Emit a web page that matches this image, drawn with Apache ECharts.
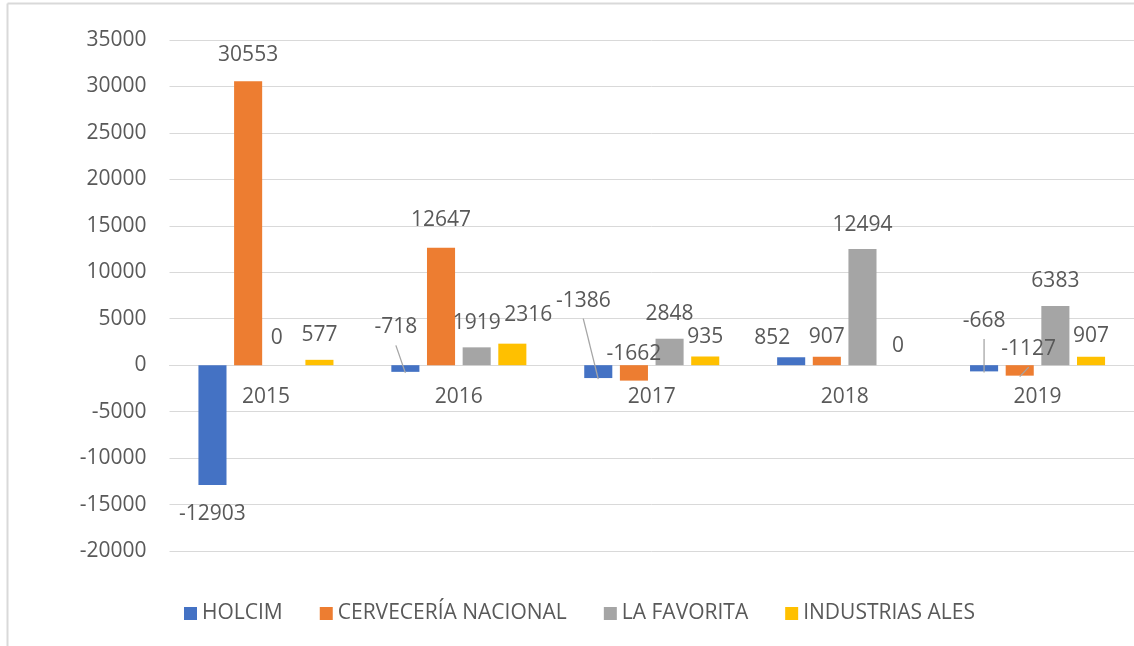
<!DOCTYPE html>
<html>
<head>
<meta charset="utf-8">
<script src="https://cdn.jsdelivr.net/npm/echarts@6/dist/echarts.min.js"></script>
<style>
html,body{margin:0;padding:0;background:#fff;}
#chart{width:1134px;height:646px;}
</style>
</head>
<body>
<div id="chart"></div>
<script>
const categories = ['2015', '2016', '2017', '2018', '2019'];
const holcim = [-12903, -718, -1386, 852, -668];
const cerveceria = [30553, 12647, -1662, 907, -1127];
const laFavorita = [0, 1919, 2848, 12494, 6383];
const industriasAles = [577, 2316, 935, 0, 907];
const seriesNames = ['HOLCIM', 'CERVECERÍA NACIONAL', 'LA FAVORITA', 'INDUSTRIAS ALES'];
const seriesValues = [holcim, cerveceria, laFavorita, industriasAles];
const colors = ['#4472C4', '#ED7D31', '#A5A5A5', '#FFC000'];

// label nudges (dx, dy) from default spot, keyed by series -> category index
const nudges = [
  {0: [0, 4], 1: [-9.5, -69], 2: [-15, -102], 3: [-19, 5], 4: [0, -75]},
  {0: [0, -2], 1: [0, -3], 2: [0, -51], 3: [0, 5], 4: [9, -51]},
  {0: [-7, -3]},
  {1: [16, -4], 2: [0, 5], 3: [0, 5], 4: [0, 4]}
];
// labels that show leader lines
const leaders = [[1, 2, 4], [4], [], []];
const leaderPts = {};

const textColor = '#595959';
const font = "'Open Sans', 'Noto Sans', sans-serif";

const chart = echarts.init(document.getElementById('chart'), null, {renderer: 'canvas'});

const series = seriesValues.map((vals, si) => ({
  name: seriesNames[si],
  type: 'bar',
  barGap: '27%',
  barCategoryGap: '30%',
  itemStyle: {color: colors[si]},
  label: {
    show: true,
    color: textColor,
    fontFamily: font,
    fontSize: 21,
    distance: 14
  },
  labelLayout: function (p) {
    const n = nudges[p.seriesIndex][p.dataIndex];
    if (!n) return {};
    const cx = p.labelRect.x + p.labelRect.width / 2 + n[0];
    const cy = p.labelRect.y + p.labelRect.height / 2 + n[1];
    if (leaders[p.seriesIndex].indexOf(p.dataIndex) >= 0) {
      const r = p.rect;
      const bx = r.x + r.width / 2;
      const by = Math.max(r.y, r.y + r.height) + 1;
      leaderPts[p.seriesIndex + '-' + p.dataIndex] = [cx, cy + 18, bx, by];
    }
    return {x: cx, y: cy, align: 'center', verticalAlign: 'middle'};
  },
  data: vals.map((v, i) => ({
    value: v,
    label: {position: v < 0 ? 'bottom' : 'top'}
  }))
}));

chart.setOption({
  animation: false,
  color: colors,
  textStyle: {fontFamily: font},
  grid: {left: 169.5, right: -8, top: 40, bottom: 95, containLabel: false},
  legend: {
    data: seriesNames,
    left: 179,
    top: 598,
    itemWidth: 13,
    itemHeight: 13,
    itemGap: 37,
    icon: 'rect',
    textStyle: {color: textColor, fontSize: 21, fontFamily: font}
  },
  xAxis: {
    type: 'category',
    data: categories,
    position: 'bottom',
    offset: -186,
    axisLine: {show: true, onZero: false, lineStyle: {color: '#d9d9d9', width: 1}},
    axisTick: {show: false},
    axisLabel: {color: textColor, fontSize: 21, fontFamily: font, margin: 22}
  },
  yAxis: {
    type: 'value',
    min: -20000,
    max: 35000,
    interval: 5000,
    axisLine: {show: false},
    axisTick: {show: false},
    splitLine: {show: true, lineStyle: {color: '#d9d9d9', width: 1}},
    axisLabel: {color: textColor, fontSize: 21, fontFamily: font, margin: 23, formatter: v => String(v)}
  },
  graphic: [
    {id: 'borderTop', type: 'line', shape: {x1: 7.5, y1: 3.5, x2: 1134, y2: 3.5}, style: {stroke: '#d9d9d9', lineWidth: 2}, silent: true},
    {id: 'borderLeft', type: 'line', shape: {x1: 7.5, y1: 3.5, x2: 7.5, y2: 646}, style: {stroke: '#d9d9d9', lineWidth: 2}, silent: true}
  ],
  series: series
});

// leader lines, from the positions the library computed for labels and bars
const leaderGraphics = Object.keys(leaderPts).map(k => {
  const p = leaderPts[k];
  return {id: 'leader-' + k, type: 'line', z: 100,
    shape: {x1: p[0], y1: p[1], x2: p[2], y2: p[3]},
    style: {stroke: '#a6a6a6', lineWidth: 1.3}, silent: true};
});
chart.setOption({graphic: leaderGraphics});
</script>
</body>
</html>
